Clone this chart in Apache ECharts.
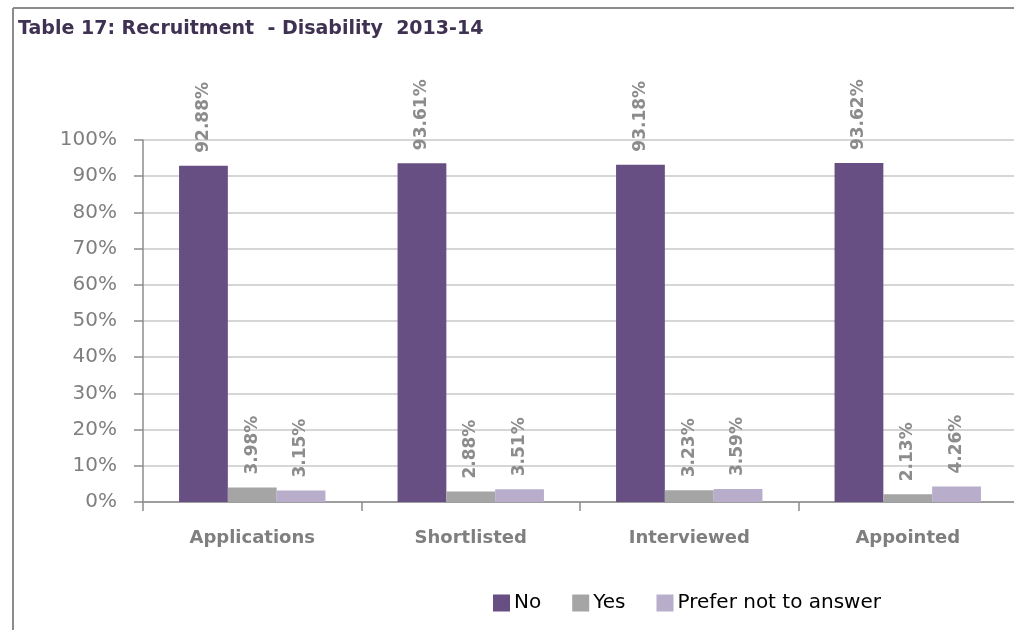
<!DOCTYPE html>
<html>
<head>
<meta charset="utf-8">
<script src="https://cdn.jsdelivr.net/npm/echarts@6/dist/echarts.min.js"></script>
<style>
  html, body { margin: 0; padding: 0; background: #fff; overflow: hidden; width: 1014px; height: 630px; }
  #chart { width: 1022px; height: 630px; }
</style>
</head>
<body>
<div id="chart"></div>
<script>
// Recruitment stages and disability declaration shares (percent)
const categories = ['Applications', 'Shortlisted', 'Interviewed', 'Appointed'];
const noValues = [92.88, 93.61, 93.18, 93.62];
const yesValues = [3.98, 2.88, 3.23, 2.13];
const preferValues = [3.15, 3.51, 3.59, 4.26];
const seriesNames = ['No', 'Yes', 'Prefer not to answer'];
const seriesColors = ['#674f84', '#a5a5a5', '#b8aecb'];

const font = '"DejaVu Sans", Verdana, sans-serif';

function barSeries(name, data, color) {
  return {
    name: name,
    type: 'bar',
    data: data,
    barGap: '0%',
    barCategoryGap: '33%',
    itemStyle: { color: color },
    label: {
      show: true,
      position: 'top',
      rotate: 90,
      align: 'left',
      verticalAlign: 'middle',
      distance: 13,
      color: '#8c8c8c',
      fontWeight: 'bold',
      fontSize: 17,
      fontFamily: font,
      formatter: p => p.value.toFixed(2) + '%'
    }
  };
}

const chart = echarts.init(document.getElementById('chart'));
chart.setOption({
  animation: false,
  title: {
    text: 'Table 17: Recruitment  - Disability  2013-14',
    left: 13, top: 15,
    textStyle: { color: '#3f3151', fontSize: 19, fontWeight: 'bold', fontFamily: font }
  },
  legend: {
    bottom: 12, left: 488,
    itemWidth: 17, itemHeight: 17, itemGap: 31,
    icon: 'rect',
    textStyle: { color: '#000', fontSize: 20, fontFamily: font, padding: [0, 0, 0, -1] },
    data: seriesNames
  },
  grid: { left: 143, right: 5, top: 140, bottom: 128 },
  xAxis: {
    type: 'category',
    data: categories,
    axisLine: { lineStyle: { color: '#8c8c8c', width: 1.5 } },
    axisTick: { show: true, length: 9, lineStyle: { color: '#8c8c8c', width: 1.5 } },
    axisLabel: { color: '#7f7f7f', fontSize: 18, fontWeight: 'bold', fontFamily: font, margin: 27 }
  },
  yAxis: {
    type: 'value',
    min: 0, max: 100, interval: 10,
    axisLine: { show: true, lineStyle: { color: '#8c8c8c', width: 1.5 } },
    axisTick: { show: true, length: 9, lineStyle: { color: '#8c8c8c', width: 1.5 } },
    axisLabel: { color: '#7f7f7f', fontSize: 20, fontFamily: font, margin: 26, formatter: '{value}%' },
    splitLine: { lineStyle: { color: '#c8c8c8', width: 1.5 } }
  },
  series: [
    barSeries(seriesNames[0], noValues, seriesColors[0]),
    barSeries(seriesNames[1], yesValues, seriesColors[1]),
    barSeries(seriesNames[2], preferValues, seriesColors[2])
  ],
  graphic: [
    { type: 'line', shape: { x1: 13, y1: 8, x2: 1022, y2: 8 }, style: { stroke: '#8c8c8c', lineWidth: 2 } },
    { type: 'line', shape: { x1: 13, y1: 8, x2: 13, y2: 640 }, style: { stroke: '#8c8c8c', lineWidth: 2 } }
  ]
});
</script>
</body>
</html>
